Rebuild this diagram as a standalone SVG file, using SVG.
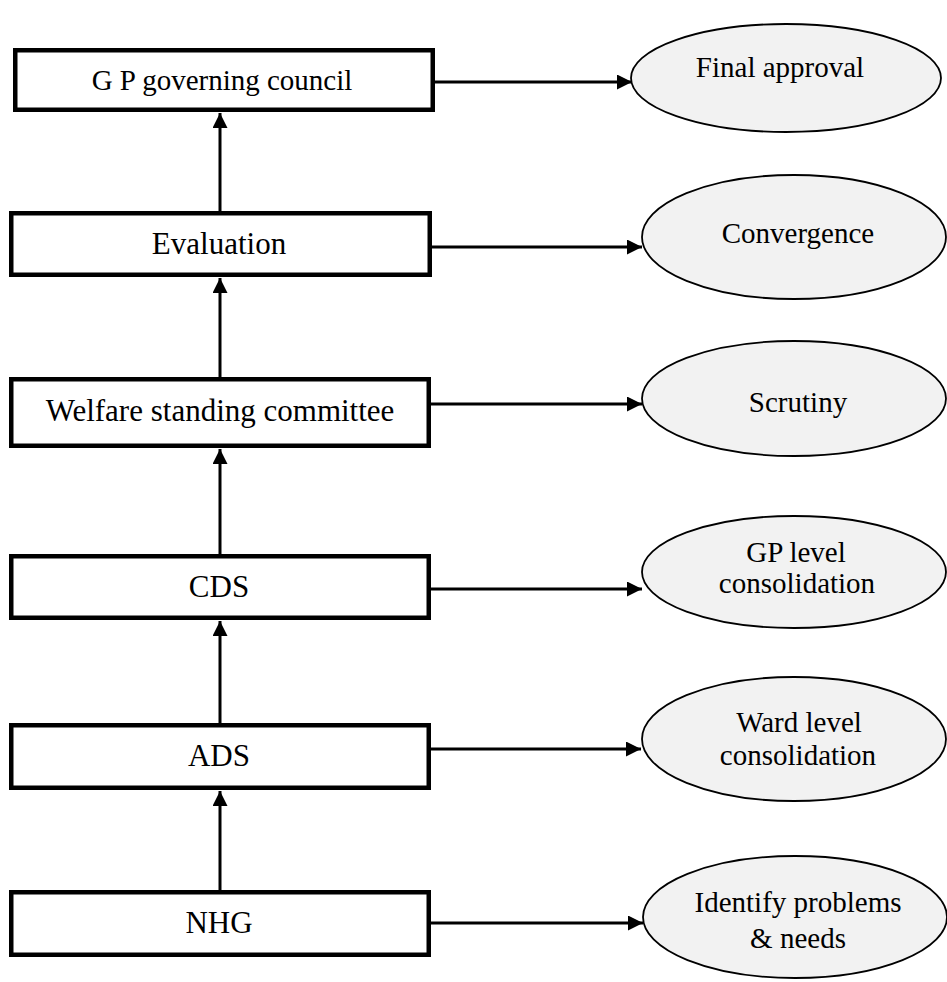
<svg xmlns="http://www.w3.org/2000/svg" width="947" height="982" viewBox="0 0 947 982">
  <style>
    .box { fill: #ffffff; stroke: #000000; stroke-width: 4.5; }
    .oval { fill: #f2f2f2; stroke: #000000; stroke-width: 1.8; }
    .label { font-family: "Liberation Serif", "Times New Roman", serif; fill: #000000; text-anchor: middle; }
    .bt { font-size: 31px; }
    .et { font-size: 29px; }
    .link { stroke: #000000; stroke-width: 3; fill: none; marker-end: url(#head); }
  </style>
  <defs>
    <marker id="head" markerUnits="userSpaceOnUse" markerWidth="16" markerHeight="16" refX="15" refY="7.5" orient="auto">
      <path d="M0,0 L15,7.5 L0,15 Z" fill="#000000"/>
    </marker>
  </defs>

  <rect width="947" height="982" fill="#ffffff"/>

  <!-- connectors -->
  <g id="connectors">
    <!-- upward chain -->
    <line class="link" x1="220" y1="211" x2="220" y2="113"/>
    <line class="link" x1="220" y1="377" x2="220" y2="278"/>
    <line class="link" x1="220" y1="554" x2="220" y2="449"/>
    <line class="link" x1="220" y1="723" x2="220" y2="621"/>
    <line class="link" x1="220" y1="890" x2="220" y2="791"/>
    <!-- outcomes -->
    <line class="link" x1="434" y1="82" x2="632" y2="82"/>
    <line class="link" x1="431" y1="247" x2="642" y2="247"/>
    <line class="link" x1="431" y1="404" x2="642" y2="404"/>
    <line class="link" x1="431" y1="589" x2="642" y2="589"/>
    <line class="link" x1="431" y1="749" x2="641" y2="749"/>
    <line class="link" x1="431" y1="923" x2="643" y2="923"/>
  </g>

  <!-- stages -->
  <g id="gp-council">
    <rect class="box" x="15.25" y="50.25" width="417.5" height="59.5"/>
    <text class="label bt" x="222" y="90" style="font-size:29px">G P governing council</text>
  </g>
  <g id="evaluation">
    <rect class="box" x="11.25" y="213.25" width="418.5" height="61.5"/>
    <text class="label bt" x="219" y="254">Evaluation</text>
  </g>
  <g id="welfare">
    <rect class="box" x="11.25" y="379.25" width="417.5" height="66.5"/>
    <text class="label bt" x="220" y="421">Welfare standing committee</text>
  </g>
  <g id="cds">
    <rect class="box" x="11.25" y="556.25" width="417.5" height="61.5"/>
    <text class="label bt" x="219" y="597">CDS</text>
  </g>
  <g id="ads">
    <rect class="box" x="11.25" y="725.25" width="417.5" height="62.5"/>
    <text class="label bt" x="219" y="766">ADS</text>
  </g>
  <g id="nhg">
    <rect class="box" x="11.25" y="892.25" width="417.5" height="62.5"/>
    <text class="label bt" x="219" y="933">NHG</text>
  </g>

  <!-- outcomes -->
  <g id="final-approval">
    <ellipse class="oval" cx="786" cy="78" rx="155" ry="54"/>
    <text class="label et" x="780" y="77">Final approval</text>
  </g>
  <g id="convergence">
    <ellipse class="oval" cx="794" cy="237" rx="152" ry="62"/>
    <text class="label et" x="798" y="243">Convergence</text>
  </g>
  <g id="scrutiny">
    <ellipse class="oval" cx="794" cy="398.5" rx="152" ry="57.5"/>
    <text class="label et" x="798" y="412">Scrutiny</text>
  </g>
  <g id="gp-consolidation">
    <ellipse class="oval" cx="794" cy="572" rx="152" ry="56"/>
    <text class="label et" x="796" y="562">GP level</text>
    <text class="label et" x="797" y="593">consolidation</text>
  </g>
  <g id="ward-consolidation">
    <ellipse class="oval" cx="794" cy="739" rx="152" ry="62"/>
    <text class="label et" x="799" y="732">Ward level</text>
    <text class="label et" x="798" y="765">consolidation</text>
  </g>
  <g id="identify">
    <ellipse class="oval" cx="795" cy="917" rx="152" ry="61"/>
    <text class="label et" x="798" y="912">Identify problems</text>
    <text class="label et" x="798" y="948">&amp; needs</text>
  </g>
</svg>
